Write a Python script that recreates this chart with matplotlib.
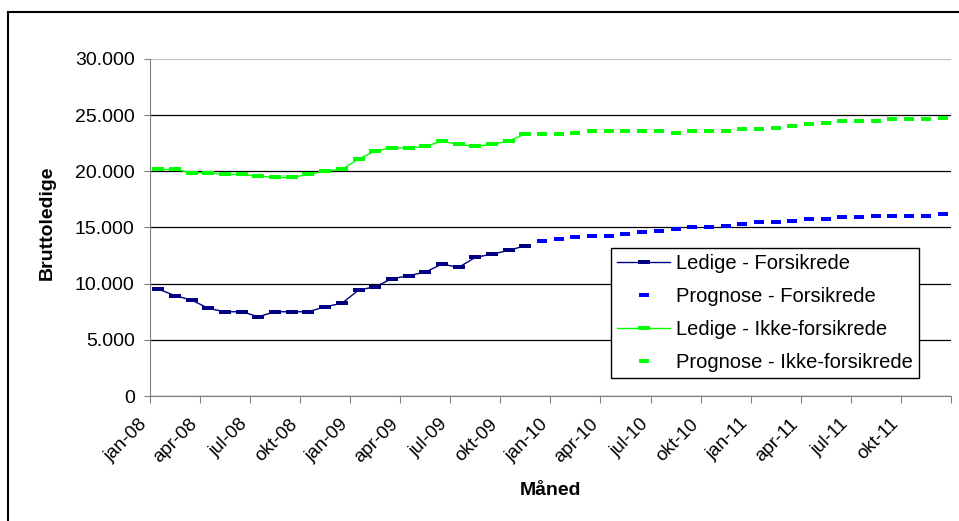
import numpy as np
import matplotlib.pyplot as plt
from matplotlib.patches import Rectangle
from matplotlib.transforms import ScaledTranslation

plt.rcParams['font.family'] = ['Liberation Sans', 'DejaVu Sans']

# Måneder jan-08 .. dec-11 (48 måneder), label hver 3. måned
maaneder_navne = ['jan', 'feb', 'mar', 'apr', 'maj', 'jun', 'jul', 'aug', 'sep', 'okt', 'nov', 'dec']
aar = ['08', '09', '10', '11']
maaneder = [m + '-' + a for a in aar for m in maaneder_navne]

# Faktiske tal (jan-08 .. nov-09)
ledige_forsikrede = [9520, 8930, 8540, 7800, 7500, 7500, 7060, 7500, 7500, 7500, 7950, 8250,
                     9430, 9730, 10440, 10710, 11030, 11740, 11450, 12340, 12630, 12960, 13380]
ledige_ikke_forsikrede = [20170, 20170, 19870, 19870, 19720, 19720, 19570, 19460, 19460, 19720, 20020, 20170,
                          21090, 21810, 22100, 22080, 22210, 22690, 22390, 22210, 22390, 22710, 23310]

# Prognose (dec-09 .. dec-11)
prognose_forsikrede = [13820, 13970, 14120, 14270, 14270, 14410, 14560, 14710, 14860, 15010, 15010, 15160,
                       15300, 15450, 15450, 15600, 15750, 15750, 15900, 15900, 16050, 16050, 16050, 16050, 16190]
prognose_ikke_forsikrede = [23280, 23280, 23430, 23580, 23580, 23580, 23580, 23580, 23430, 23580, 23580, 23580,
                            23730, 23730, 23870, 24020, 24170, 24320, 24470, 24470, 24470, 24620, 24620, 24620, 24760]

x_ledige = np.arange(len(ledige_forsikrede))
x_prognose = np.arange(len(ledige_forsikrede), len(maaneder))

# Excel-agtig "dash" markør (lille rektangel)
dash_stor = [(-1.5, -0.55), (1.5, -0.55), (1.5, 0.55), (-1.5, 0.55)]
dash_lille = [(-1.1, -0.55), (1.1, -0.55), (1.1, 0.55), (-1.1, 0.55)]

fig = plt.figure(figsize=(9.59, 5.21), dpi=100)
ax = fig.add_axes([0.1564, 0.2399, 0.8351, 0.6469])

ax.plot(x_ledige, ledige_forsikrede, color='#000080', lw=1, marker=dash_stor, ms=9, mew=0,
        label='Ledige - Forsikrede')
ax.plot(x_prognose, prognose_forsikrede, ls='none', color='#0000ff', marker=dash_lille, ms=6.5, mew=0,
        label='Prognose - Forsikrede')
ax.plot(x_ledige, ledige_ikke_forsikrede, color='#00ff00', lw=1, marker=dash_stor, ms=9, mew=0,
        label='Ledige - Ikke-forsikrede')
ax.plot(x_prognose, prognose_ikke_forsikrede, ls='none', color='#00ff00', marker=dash_lille, ms=6.5, mew=0,
        label='Prognose - Ikke-forsikrede')

# Akser
ax.set_xlim(-0.5, len(maaneder) - 0.5)
ax.set_ylim(0, 30000)
ax.set_yticks(np.arange(0, 30001, 5000))
ax.set_yticklabels([f"{v:,}".replace(',', '.') for v in range(0, 30001, 5000)])
ax.tick_params(axis='y', labelsize=14, length=4, pad=7, color='#808080')

ax.set_xticks(np.arange(-0.5, len(maaneder), 3))
ax.set_xticklabels(maaneder[::3] + [''], rotation=45, ha='right', va='top', rotation_mode='anchor')
ax.tick_params(axis='x', labelsize=13.5, length=5, pad=9, color='#808080')
for lab in ax.get_xticklabels():
    lab.set_transform(lab.get_transform() + ScaledTranslation(-11 / 100, 0, fig.dpi_scale_trans))

for s in ['top', 'right']:
    ax.spines[s].set_visible(False)
for s in ['left', 'bottom']:
    ax.spines[s].set_color('#808080')

ax.set_axisbelow(True)
ax.yaxis.grid(True, color='black', lw=0.9)
ax.get_ygridlines()[-1].set_color('#c0c0c0')

ax.set_xlabel('Måned', fontsize=14, fontweight='bold')
ax.xaxis.set_label_coords(0.5, -0.255)
ax.set_ylabel('Bruttoledige', fontsize=14, fontweight='bold', va='center')
ax.yaxis.set_label_coords(-0.1286, 0.513)

leg = ax.legend(loc='upper left', bbox_to_anchor=(0.576, 0.439), fontsize=14.5, fancybox=False,
                edgecolor='black', framealpha=1, borderaxespad=0, numpoints=1,
                handlelength=2.6, handletextpad=0.3, borderpad=0.3, labelspacing=0.7)
leg.get_frame().set_linewidth(1.0)

# Ramme om diagrammet
fig.patches.append(Rectangle((0.0083, -0.1), 1.2, 1.077, transform=fig.transFigure,
                             fill=False, ec='black', lw=1.5))

fig.savefig('out.png', dpi=100)
